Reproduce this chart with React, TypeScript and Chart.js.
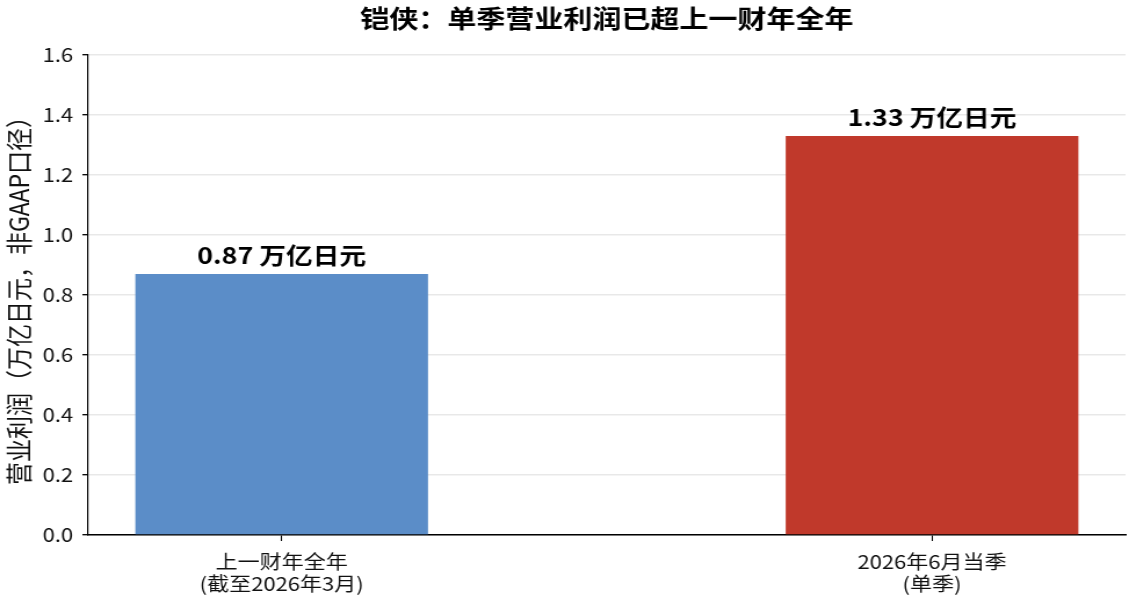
import React, { useEffect, useRef } from "react";
import { Chart, registerables } from "chart.js";

Chart.register(...registerables);

const categories: string[][] = [["上一财年全年", "(截至2026年3月)"], ["2026年6月当季", "(单季)"]];
const values: number[] = [0.87, 1.33];
const valueLabels: string[] = ["0.87 万亿日元", "1.33 万亿日元"];
const barColors: string[] = ["#5B8DC8", "#C0392B"];
const yTicks: number[] = [0, 0.2, 0.4, 0.6, 0.8, 1.0, 1.2, 1.4, 1.6];
const titleText = "铠侠：单季营业利润已超上一财年全年";
const yTitle = "营业利润（万亿日元，非GAAP口径）";

const FONT = "'Noto Sans CJK SC', 'Noto Sans', sans-serif";
const OUT_W = 1129;
const OUT_H = 611;
const STRETCH = 1.16;
const W = Math.round(OUT_W / STRETCH);
const H = OUT_H;

const labelPlugin = {
  id: "barLabels",
  afterDatasetsDraw(chart: any) {
    const ctx = chart.ctx;
    const meta = chart.getDatasetMeta(0);
    ctx.save();
    ctx.font = `bold 23px ${FONT}`;
    ctx.fillStyle = "#000";
    ctx.textAlign = "center";
    ctx.textBaseline = "alphabetic";
    meta.data.forEach((bar: any, i: number) => {
      ctx.fillText(valueLabels[i], bar.x, bar.y - 10);
    });
    ctx.restore();
  },
};

export default function App() {
  const ref = useRef<HTMLCanvasElement>(null);
  useEffect(() => {
    if (!ref.current) return;
    const chart = new Chart(ref.current, {
      type: "bar",
      data: {
        datasets: [
          {
            data: values.map((v, i) => ({ x: i, y: v })),
            backgroundColor: barColors,
            barPercentage: 0.45,
            categoryPercentage: 1,
          },
        ],
      },
      options: {
        animation: false,
        responsive: false,
        maintainAspectRatio: false,
        devicePixelRatio: 1,
        layout: { padding: { left: 0, right: 3, top: 0, bottom: 0 } },
        plugins: {
          legend: { display: false },
          tooltip: { enabled: false },
          title: {
            display: true,
            fullSize: false,
            text: titleText,
            color: "#000",
            font: { family: FONT, size: 25, weight: "bold", lineHeight: 1.2 },
            padding: { top: 3, bottom: 22 },
          },
        },
        scales: {
          x: {
            type: "linear",
            min: -0.2975,
            max: 1.2975,
            offset: false,
            afterBuildTicks: (scale: any) => {
              scale.ticks = categories.map((_, i) => ({ value: i }));
            },
            afterFit: (scale: any) => {
              scale.height = 76;
            },
            ticks: {
              callback: (v: any) => categories[Number(v)] ?? "",
              color: "#111",
              font: { family: FONT, size: 19, lineHeight: 1.2 },
              padding: 9,
              maxRotation: 0,
              autoSkip: false,
            },
            grid: {
              display: true,
              offset: false,
              drawOnChartArea: false,
              drawTicks: true,
              tickLength: 6,
              tickColor: "#000",
              tickWidth: 1.1,
            },
            border: { display: true, color: "#000", width: 1.4 },
          },
          y: {
            min: 0,
            max: 1.6,
            z: 1,
            afterFit: (scale: any) => {
              scale.width = 76;
            },
            afterBuildTicks: (scale: any) => {
              scale.ticks = yTicks.map((v) => ({ value: v }));
            },
            ticks: {
              callback: (v: any) => Number(v).toFixed(1),
              color: "#111",
              font: { family: FONT, size: 19 },
              padding: 8,
            },
            grid: {
              color: "rgba(190,190,190,0.35)",
              lineWidth: 1.4,
              tickColor: "#000",
              tickLength: 5,
              tickWidth: 1.3,
            },
            border: { display: true, color: "#000", width: 1.2 },
            title: {
              display: true,
              text: yTitle,
              color: "#111",
              font: { family: FONT, size: 23, lineHeight: 1.2 },
              padding: { top: 2, bottom: 0 },
            },
          },
        },
      },
      plugins: [labelPlugin],
    } as any);
    return () => chart.destroy();
  }, []);
  return (
    <div style={{ position: "fixed", left: 0, top: 0, width: OUT_W, height: OUT_H, background: "#fff" }}>
      <canvas
        ref={ref}
        width={W}
        height={H}
        style={{ display: "block", width: OUT_W, height: OUT_H }}
      />
    </div>
  );
}
